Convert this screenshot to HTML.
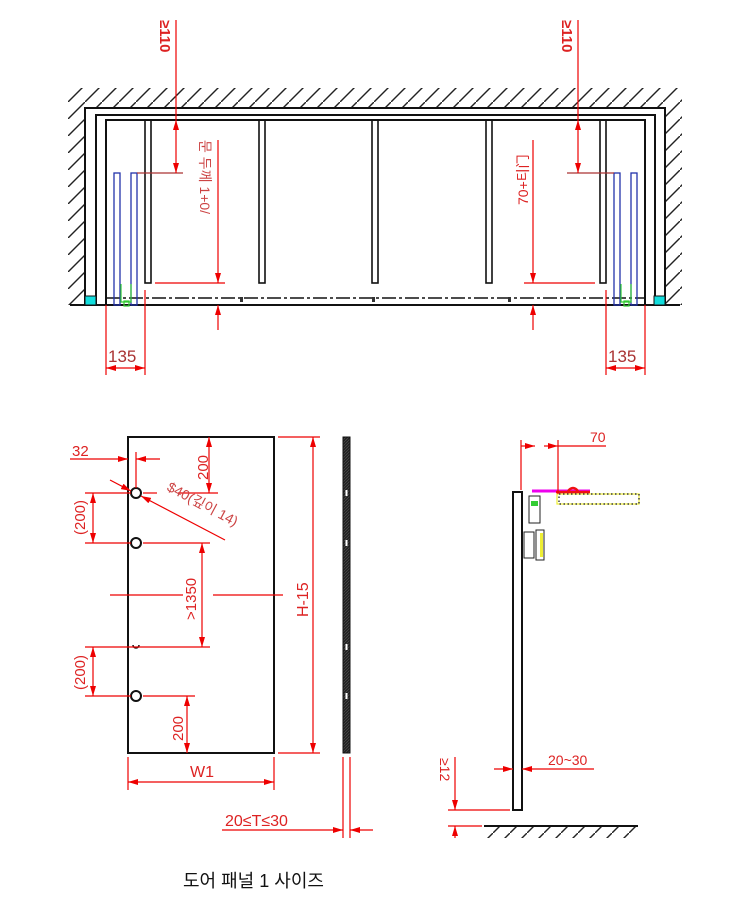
<!DOCTYPE html>
<html><head><meta charset="utf-8">
<style>
html,body{margin:0;padding:0;background:#fff;}
svg{display:block;}
text{font-family:"Liberation Sans","Noto Sans CJK KR",sans-serif;}
</style></head>
<body>
<svg width="750" height="910" viewBox="0 0 750 910" xmlns="http://www.w3.org/2000/svg">
<defs>
<pattern id="h" width="17" height="17" patternUnits="userSpaceOnUse">
<line x1="0" y1="17" x2="17" y2="0" stroke="#222" stroke-width="1.4"/>
</pattern>
<pattern id="d" width="3" height="3" patternUnits="userSpaceOnUse">
<rect width="3" height="3" fill="#222"/><line x1="0" y1="3" x2="3" y2="0" stroke="#555" stroke-width="0.6"/>
</pattern>
<marker id="a" markerWidth="10" markerHeight="6" refX="10" refY="3" orient="auto" markerUnits="userSpaceOnUse">
<path d="M0,0 L10,3 L0,6 Z" fill="#e00"/></marker>
<marker id="b" markerWidth="10" markerHeight="6" refX="0" refY="3" orient="auto" markerUnits="userSpaceOnUse">
<path d="M10,0 L0,3 L10,6 Z" fill="#e00"/></marker>
</defs>

<!-- TOP PLAN -->
<rect x="68" y="88" width="614" height="19" fill="url(#h)"/>
<rect x="68" y="107" width="17" height="198" fill="url(#h)"/>
<rect x="665" y="107" width="17" height="198" fill="url(#h)"/>
<g fill="none" stroke="#111" stroke-width="2">
<path d="M85,305 V108 H665 V305"/>
<path d="M96,305 V115 H655 V305"/>
<path d="M106,305 V120 H645 V305"/>
<line x1="70" y1="305" x2="680" y2="305"/>
</g>
<g fill="none" stroke="#111" stroke-width="1.6">
<rect x="145" y="120" width="6" height="163"/>
<rect x="259" y="120" width="6" height="163"/>
<rect x="372" y="120" width="6" height="163"/>
<rect x="486" y="120" width="6" height="163"/>
<rect x="600" y="120" width="6" height="163"/>
<line x1="106" y1="298" x2="645" y2="298" stroke-dasharray="14,3,3,3"/>
</g>
<g fill="#333"><rect x="240" y="297" width="3" height="5"/><rect x="372" y="297" width="3" height="5"/><rect x="508" y="297" width="3" height="5"/></g>
<rect x="85" y="296" width="11" height="9" fill="#1dd" stroke="#111"/>
<rect x="654" y="296" width="11" height="9" fill="#1dd" stroke="#111"/>
<g fill="none" stroke="#2233aa" stroke-width="1.3">
<rect x="114" y="173" width="6" height="132"/><rect x="131" y="173" width="6" height="132"/>
<rect x="614" y="173" width="6" height="132"/><rect x="631" y="173" width="6" height="132"/>
</g>
<g fill="none" stroke="#3c3" stroke-width="1.2">
<path d="M121,284 V302 H131 V284"/><rect x="124" y="301" width="5" height="5"/>
<path d="M621,284 V302 H631 V284"/><rect x="624" y="301" width="5" height="5"/>
</g>
<g stroke="#a33" stroke-width="1.2" fill="none">
<line x1="137" y1="173" x2="183" y2="173"/>
<line x1="567" y1="173" x2="614" y2="173"/>
</g>
<g stroke="#e00" stroke-width="1.2" fill="none">
<line x1="176" y1="20" x2="176" y2="120"/>
<line x1="176" y1="120" x2="176" y2="173" marker-start="url(#b)" marker-end="url(#a)"/>
<line x1="578" y1="20" x2="578" y2="120"/>
<line x1="578" y1="120" x2="578" y2="173" marker-start="url(#b)" marker-end="url(#a)"/>
<line x1="155" y1="283" x2="225" y2="283"/>
<line x1="218" y1="140" x2="218" y2="283" marker-end="url(#a)"/>
<line x1="218" y1="330" x2="218" y2="305" marker-end="url(#a)"/>
<line x1="524" y1="283" x2="595" y2="283"/>
<line x1="533" y1="140" x2="533" y2="283" marker-end="url(#a)"/>
<line x1="533" y1="330" x2="533" y2="305" marker-end="url(#a)"/>
<line x1="106" y1="305" x2="106" y2="375"/><line x1="145" y1="290" x2="145" y2="375"/>
<line x1="106" y1="368" x2="145" y2="368" marker-start="url(#b)" marker-end="url(#a)"/>
<line x1="606" y1="290" x2="606" y2="375"/><line x1="645" y1="305" x2="645" y2="375"/>
<line x1="606" y1="368" x2="645" y2="368" marker-start="url(#b)" marker-end="url(#a)"/>
</g>
<g fill="#d22" font-size="14">
<text transform="translate(160,20) rotate(90)" font-weight="bold" font-size="15">≥110</text>
<text transform="translate(562,20) rotate(90)" font-weight="bold" font-size="15">≥110</text>
<text transform="translate(200,140) rotate(90)" fill="#c44">문 두께 1+0/</text>
<text transform="translate(528,205) rotate(-90)">70+티门</text>
<text x="108" y="362" fill="#a33" font-size="17">135</text>
<text x="608" y="362" fill="#a33" font-size="17">135</text>
</g>

<!-- DOOR FRONT -->
<rect x="128" y="437" width="146" height="316" fill="none" stroke="#111" stroke-width="2"/>
<g fill="#fff" stroke="#111" stroke-width="2">
<circle cx="136" cy="493" r="5"/><circle cx="136" cy="543" r="5"/><circle cx="136" cy="696" r="5"/>
</g>
<path d="M133,645 a3,3 0 0 0 6,0" fill="none" stroke="#111" stroke-width="1.5"/>
<g stroke="#e00" stroke-width="1.2" fill="none">
<line x1="70" y1="459" x2="128" y2="459" marker-end="url(#a)"/>
<line x1="160" y1="459" x2="136" y2="459" marker-end="url(#a)"/>
<line x1="136" y1="452" x2="136" y2="488"/>
<line x1="110" y1="480" x2="131" y2="491" marker-end="url(#a)"/>
<line x1="225" y1="540" x2="141" y2="496" marker-end="url(#a)"/>
<line x1="143" y1="493" x2="157" y2="493"/><line x1="178" y1="493" x2="218" y2="493"/>
<line x1="209" y1="437" x2="209" y2="493" marker-start="url(#b)" marker-end="url(#a)"/>
<line x1="85" y1="493" x2="131" y2="493"/>
<line x1="85" y1="543" x2="131" y2="543"/>
<line x1="93" y1="493" x2="93" y2="543" marker-start="url(#b)" marker-end="url(#a)"/>
<line x1="143" y1="543" x2="210" y2="543"/>
<line x1="202" y1="543" x2="202" y2="647" marker-start="url(#b)" marker-end="url(#a)"/>
<line x1="110" y1="595" x2="183" y2="595"/><line x1="213" y1="595" x2="283" y2="595"/>
<line x1="85" y1="647" x2="210" y2="647"/>
<line x1="85" y1="696" x2="131" y2="696"/>
<line x1="93" y1="647" x2="93" y2="696" marker-start="url(#b)" marker-end="url(#a)"/>
<line x1="143" y1="696" x2="195" y2="696"/>
<line x1="187" y1="696" x2="187" y2="753" marker-start="url(#b)" marker-end="url(#a)"/>
<line x1="278" y1="437" x2="320" y2="437"/><line x1="278" y1="753" x2="320" y2="753"/>
<line x1="313" y1="437" x2="313" y2="753" marker-start="url(#b)" marker-end="url(#a)"/>
<line x1="128" y1="757" x2="128" y2="790"/><line x1="274" y1="757" x2="274" y2="790"/>
<line x1="128" y1="782" x2="274" y2="782" marker-start="url(#b)" marker-end="url(#a)"/>
<line x1="343" y1="757" x2="343" y2="838"/><line x1="350" y1="757" x2="350" y2="838"/>
<line x1="222" y1="830" x2="343" y2="830" marker-end="url(#a)"/>
<line x1="373" y1="830" x2="350" y2="830" marker-end="url(#a)"/>
</g>
<g fill="#d22" font-size="15">
<text x="72" y="456">32</text>
<text transform="translate(208,480) rotate(-90)">200</text>
<text transform="translate(166,490) rotate(28)" font-size="14" fill="#c44">$40(깊이 14)</text>
<text transform="translate(85,535) rotate(-90)">(200)</text>
<text transform="translate(196,620) rotate(-90)">&gt;1350</text>
<text transform="translate(85,690) rotate(-90)">(200)</text>
<text transform="translate(183,741) rotate(-90)">200</text>
<text transform="translate(308,617) rotate(-90)" font-size="16">H-15</text>
<text x="190" y="777" font-size="16">W1</text>
<text x="225" y="826" font-size="16">20≤T≤30</text>
</g>
<rect x="343" y="437" width="7" height="316" fill="url(#d)" stroke="#111"/>
<g fill="#fff"><rect x="345.5" y="490" width="2" height="6"/><rect x="345.5" y="540" width="2" height="6"/><rect x="345.5" y="644" width="2" height="6"/><rect x="345.5" y="693" width="2" height="6"/></g>

<!-- SIDE VIEW -->
<rect x="513" y="492" width="9" height="318" fill="none" stroke="#111" stroke-width="2"/>
<line x1="484" y1="826" x2="638" y2="826" stroke="#111" stroke-width="2"/>
<rect x="486" y="827" width="152" height="11" fill="url(#h)"/>
<rect x="529" y="496" width="11" height="27" fill="#fff" stroke="#222"/>
<rect x="531" y="501" width="7" height="5" fill="#3c3"/>
<rect x="524" y="532" width="10" height="26" fill="#fff" stroke="#222"/>
<rect x="536" y="530" width="8" height="30" fill="#fff" stroke="#222"/>
<rect x="540" y="533" width="3" height="24" fill="#ee3"/>
<rect x="557" y="494" width="82" height="10" fill="#fff" stroke="#ee3" stroke-width="1.2"/>
<rect x="559" y="494" width="80" height="10" fill="none" stroke="#111" stroke-width="1.2" stroke-dasharray="1.5,2.5"/>
<path d="M532,491 H590" stroke="#e0e" stroke-width="3"/>
<path d="M556,492 H590 M568,491 q5,-6 10,0" stroke="#e11" stroke-width="2.5" fill="none"/>
<g stroke="#e00" stroke-width="1.2" fill="none">
<line x1="521" y1="440" x2="521" y2="490"/><line x1="558" y1="440" x2="558" y2="494"/>
<line x1="521" y1="446" x2="535" y2="446" marker-end="url(#a)"/>
<line x1="558" y1="446" x2="544" y2="446" marker-start="url(#b)"/>
<line x1="558" y1="446" x2="606" y2="446"/>
<line x1="494" y1="769" x2="513" y2="769" marker-end="url(#a)"/>
<line x1="594" y1="769" x2="522" y2="769" marker-end="url(#a)"/>
<line x1="448" y1="810" x2="510" y2="810"/>
<line x1="448" y1="826" x2="482" y2="826"/>
<line x1="455" y1="757" x2="455" y2="810" marker-end="url(#a)"/>
<line x1="455" y1="838" x2="455" y2="826" marker-end="url(#a)"/>
</g>
<g fill="#d22" font-size="14">
<text x="590" y="442">70</text>
<text x="548" y="765">20~30</text>
<text transform="translate(440,758) rotate(90)">≥12</text>
</g>

<text x="183" y="887" font-size="18" fill="#111">도어 패널 1 사이즈</text>
</svg>
</body></html>
